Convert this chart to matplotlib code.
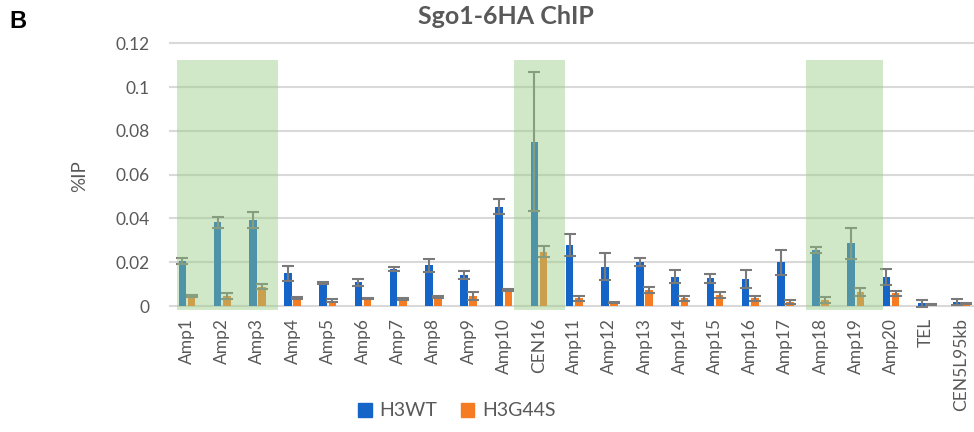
import numpy as np
import matplotlib
matplotlib.use("Agg")
import matplotlib.pyplot as plt
from matplotlib.patches import Patch

# Datos (%IP)
categorias = ["Amp1", "Amp2", "Amp3", "Amp4", "Amp5", "Amp6", "Amp7", "Amp8", "Amp9",
              "Amp10", "CEN16", "Amp11", "Amp12", "Amp13", "Amp14", "Amp15", "Amp16",
              "Amp17", "Amp18", "Amp19", "Amp20", "TEL", "CEN5L95kb"]
h3wt = [0.0207, 0.0382, 0.0393, 0.0149, 0.0104, 0.0108, 0.0168, 0.0187, 0.0142,
        0.0454, 0.0750, 0.0279, 0.0180, 0.0202, 0.0134, 0.0126, 0.0123,
        0.0199, 0.0256, 0.0286, 0.0134, 0.0012, 0.0017]
h3wt_err = [0.0013, 0.0025, 0.0036, 0.0034, 0.0005, 0.0015, 0.0009, 0.0030, 0.0019,
            0.0035, 0.0318, 0.0050, 0.0063, 0.0019, 0.0030, 0.0019, 0.0041,
            0.0057, 0.0013, 0.0069, 0.0037, 0.0015, 0.0013]
h3g44s = [0.0046, 0.0046, 0.0088, 0.0035, 0.0024, 0.0035, 0.0032, 0.0040, 0.0047,
          0.0073, 0.0248, 0.0035, 0.0017, 0.0073, 0.0035, 0.0050, 0.0035,
          0.0017, 0.0027, 0.0065, 0.0058, 0.0008, 0.0012]
h3g44s_err = [0.0004, 0.0015, 0.0011, 0.0005, 0.0006, 0.0003, 0.0003, 0.0005, 0.0018,
              0.0003, 0.0026, 0.0012, 0.0002, 0.0012, 0.0011, 0.0015, 0.0012,
              0.0010, 0.0013, 0.0019, 0.0012, 0.0002, 0.0003]
series = ["H3WT", "H3G44S"]

# Zonas resaltadas en verde (primera y última categoría)
zonas = [("Amp1", "Amp3"), ("CEN16", "CEN16"), ("Amp18", "Amp19")]
yticks = [0, 0.02, 0.04, 0.06, 0.08, 0.1, 0.12]

AZUL = "#1565c8"
NARANJA = "#f57c22"
GRIS = "#595959"

plt.rcParams["font.family"] = ["Lato", "DejaVu Sans"]

fig = plt.figure(figsize=(9.74, 4.32), dpi=100)
ax = fig.add_axes([169.4 / 974, 1 - 312.6 / 432, 1 - 169.4 / 974, 273.75 / 432])

x = np.arange(len(categorias))
w = 0.22
off = 0.13
err_kw = dict(ecolor="#7a7a7a", elinewidth=1.5, capsize=4, capthick=1.5)

ax.bar(x - off, h3wt, w, color=AZUL, zorder=2)
ax.errorbar(x - off, h3wt, yerr=h3wt_err, fmt="none", zorder=3, **err_kw)
ax.bar(x + off, h3g44s, w, color=NARANJA, zorder=2)
ax.errorbar(x + off, h3g44s, yerr=h3g44s_err, fmt="none", zorder=3, **err_kw)

# rectángulos verdes dibujados a mano en la figura original
pads = [(-0.28, 0.59), (-0.71, 0.74), (-0.41, 0.76)]
for (a, b), (pl, pr) in zip(zonas, pads):
    x0 = categorias.index(a) + pl
    x1 = categorias.index(b) + pr
    ax.fill_between([x0, x1], -0.0018, 0.1123, color="#97cc85", alpha=0.45,
                    linewidth=0, zorder=4)

ax.set_xlim(-0.5, (974 - 169.4) / 35.2 - 0.5)
ax.set_ylim(-0.003, 0.122)
ax.set_yticks(yticks)
ax.set_yticklabels(["0", "0.02", "0.04", "0.06", "0.08", "0.1", "0.12"])
ax.set_xticks(x)
ax.set_xticklabels(categorias, rotation=90)
ax.tick_params(axis="both", length=0, labelcolor=GRIS, labelsize=12.5)
ax.tick_params(axis="y", pad=14)
ax.tick_params(axis="x", pad=4)
ax.grid(axis="y", color="#d9d9d9", linewidth=1.5, zorder=0)
ax.set_axisbelow(True)
for s in ax.spines.values():
    s.set_visible(False)

ax.set_ylabel("%IP", color=GRIS, fontsize=13.5)
ax.yaxis.set_label_coords(-0.101, 0.5)

fig.text(506 / 974, 1 - 17 / 432, "Sgo1-6HA ChIP", ha="center", va="center",
         fontsize=18, fontweight="bold", color=GRIS)
fig.text(9 / 974, 1 - 22 / 432, "B", ha="left", va="center", fontsize=17,
         fontweight="bold", color="black", family="Liberation Sans")

handles = [Patch(color=AZUL), Patch(color=NARANJA)]
fig.legend(handles, series, loc="center", bbox_to_anchor=(457 / 974, 1 - 411 / 432),
           ncol=2, frameon=False, fontsize=14, handlelength=0.7, handleheight=0.7,
           handletextpad=0.4, columnspacing=1.2, labelcolor=GRIS)

fig.savefig("out.png", dpi=100)
